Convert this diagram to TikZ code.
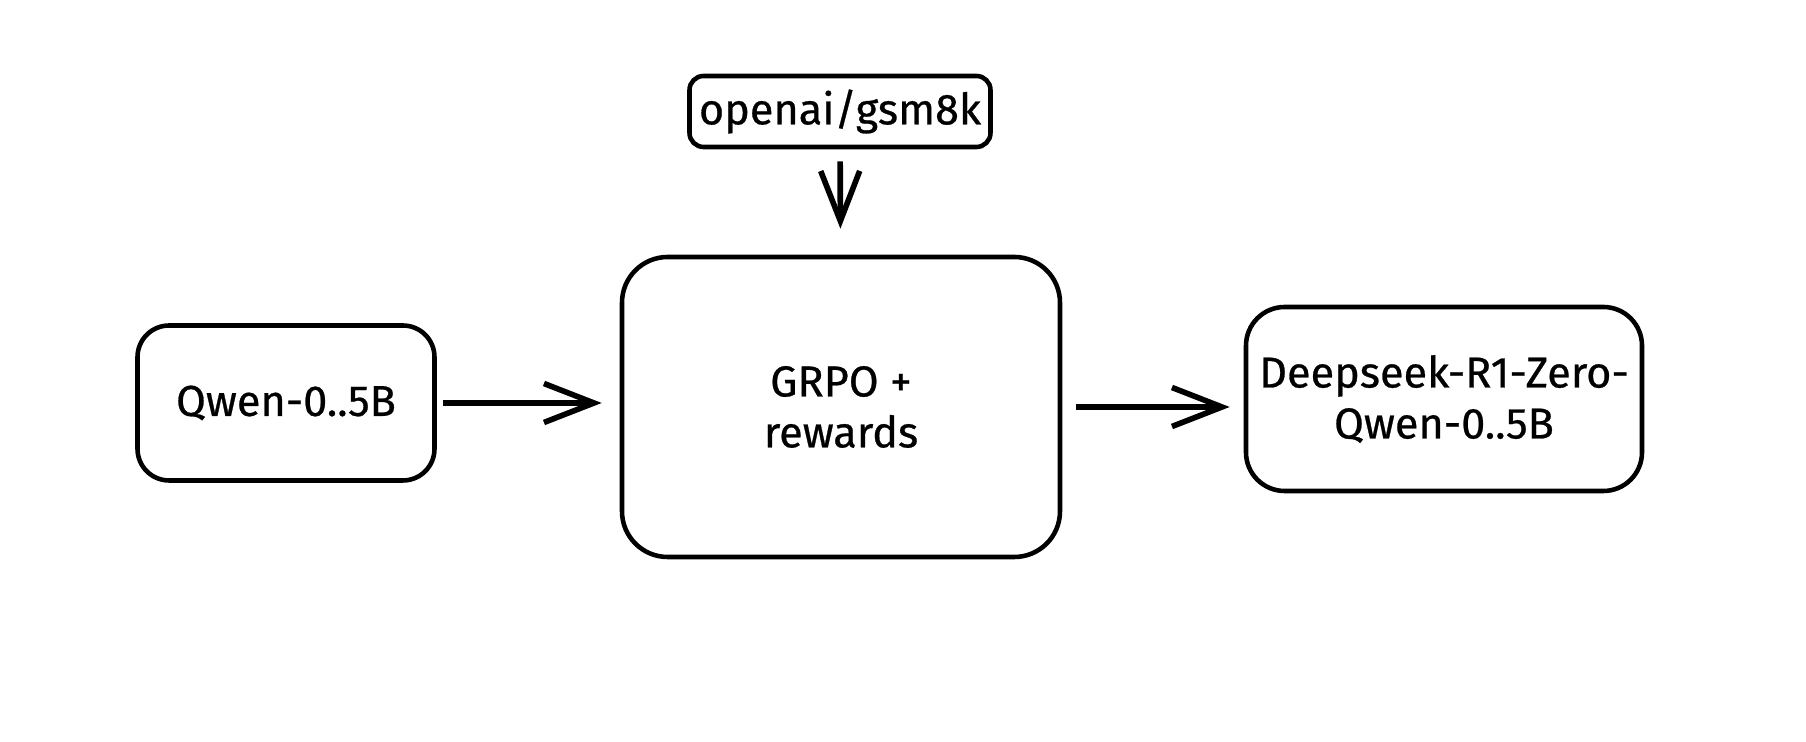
\documentclass[tikz,border=0pt]{standalone}
\usepackage{fontspec}
\setmainfont{Fira Sans}[FakeBold=0.6]
\usetikzlibrary{arrows.meta}
\begin{document}
\begin{tikzpicture}[
  box/.style={draw,line width=1.3pt,rounded corners=#1,align=center,inner sep=0pt,
    font=\fontsize{12.3}{14.5}\selectfont},
  box/.default=8pt,
  flow/.style={line width=1.6pt,-{Straight Barb[length=5mm,width=3.9mm,line width=1.6pt]}}
]
  \fill[white] (0,0) rectangle (18.06,7.42);
  \node[box=4pt,minimum width=3.01cm,minimum height=0.71cm] (data) at (8.40,6.305) {openai/gsm8k};
  \node[box=13pt,minimum width=4.38cm,minimum height=3.00cm] (grpo) at (8.41,3.35) {GRPO +\\rewards};
  \node[box=9pt,minimum width=2.97cm,minimum height=1.55cm] (base) at (2.86,3.39) {Qwen-0..5B};
  \node[box=11pt,minimum width=3.96cm,minimum height=1.84cm] (out) at (14.44,3.43) {Deepseek-R1-Zero-\\Qwen-0..5B};
  \draw[flow,shorten <=0.12cm,shorten >=0.26cm] (data) -- (grpo);
  \draw[flow,shorten <=0.06cm,shorten >=0.18cm] (base.east) -- (base.east -| grpo.west);
  \draw[flow,shorten <=0.14cm,shorten >=0.14cm] (grpo.east) -- (grpo.east -| out.west);
\end{tikzpicture}
\end{document}
